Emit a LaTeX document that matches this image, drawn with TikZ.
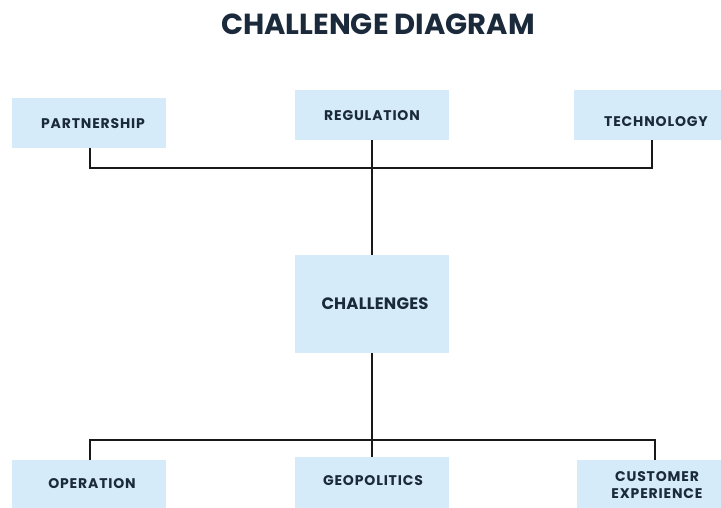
\documentclass[tikz,border=0pt]{standalone}
\usepackage{fontspec}
\setmainfont{Poppins}
\newfontfamily\titlefont{Poppins}[UprightFont=* Bold]
\newfontfamily\labelfont{Poppins}[UprightFont=* Bold, LetterSpace=6]
\newfontfamily\bigfont{Poppins}[UprightFont=* Bold, LetterSpace=1]
\definecolor{boxblue}{HTML}{D5EBFA}
\definecolor{navy}{HTML}{1B2A3B}
\begin{document}
\begin{tikzpicture}[x=1pt,y=-1pt,
  cbox/.style={fill=boxblue, draw=none, minimum width=154pt, inner sep=0pt},
  lbl/.style={text=navy, font=\labelfont\fontsize{14}{16}\selectfont, align=center},
  wire/.style={draw=black!90, line width=2.3pt}]
\clip (0,0) rectangle (721,507);
\fill[white] (0,0) rectangle (721,507);
\node[text=navy, font=\titlefont\fontsize{29}{34}\selectfont] (title) at (378,24) {CHALLENGE DIAGRAM};
% boxes
\node[cbox, minimum height=50pt] (part) at (89,123) {};
\node[cbox, minimum height=50pt] (reg) at (371.5,115) {};
\node[cbox, minimum width=150pt, minimum height=50pt] (tech) at (649,115) {};
\node[cbox, minimum height=98pt] (chal) at (371.5,304) {};
\node[cbox, minimum height=60pt] (oper) at (89,490) {};
\node[cbox, minimum height=60pt] (geo) at (371.5,487) {};
\node[cbox, minimum width=150pt, minimum height=60pt] (cust) at (652,490) {};
% labels
\node[lbl] (tpart) at (93,124) {PARTNERSHIP};
\node[lbl] (treg) at (372,116) {REGULATION};
\node[lbl] (ttech) at (656,122) {TECHNOLOGY};
\node[lbl, font=\bigfont\fontsize{16.5}{19}\selectfont] (tchal) at (375,304) {CHALLENGES};
\node[lbl] (toper) at (92,484) {OPERATION};
\node[lbl] (tgeo) at (373,481) {GEOPOLITICS};
\node[lbl, font=\labelfont\fontsize{14}{17}\selectfont] (tcust) at (657,485) {CUSTOMER\\EXPERIENCE};
% junctions
\coordinate (jt) at (372,168);
\coordinate (jb) at (372,440);
\draw[wire] (part.south -| 90,0) |- (jt);
\draw[wire] (tech.south -| 652,0) |- (jt);
\draw[wire] (reg.south -| 372,0) -- (chal.north -| 372,0);
\draw[wire] (chal.south -| 372,0) -- (geo.north -| 372,0);
\draw[wire] (oper.north -| 90,0) |- (jb);
\draw[wire] (cust.north -| 655,0) |- (jb);
\end{tikzpicture}
\end{document}
